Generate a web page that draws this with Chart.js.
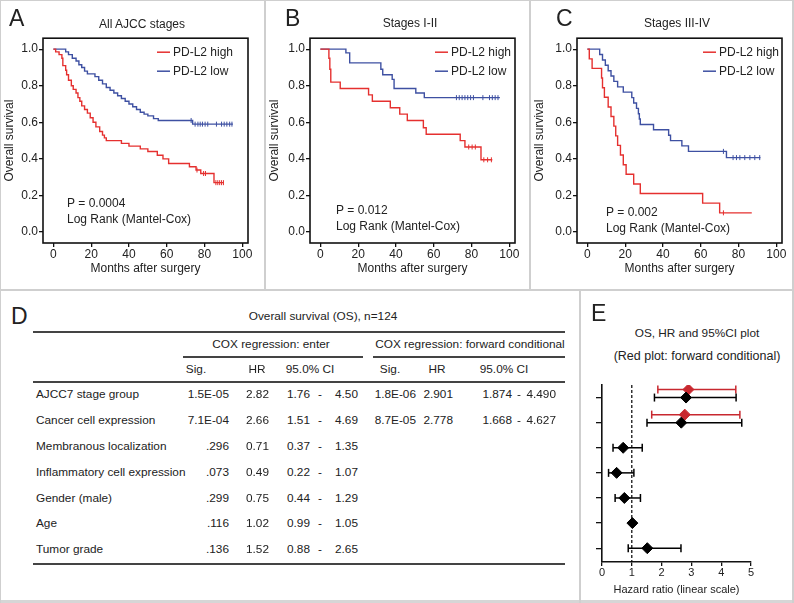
<!DOCTYPE html>
<html>
<head>
<meta charset="utf-8">
<script src="https://cdn.jsdelivr.net/npm/chart.js@4.4.1/dist/chart.umd.min.js"></script>
<style>
  body { margin: 0; background: #fff; font-family: "Liberation Sans", Arial, sans-serif; color: #222; }
  #page { position: relative; width: 794px; height: 603px; overflow: hidden; background: #fff; }
  .t { position: absolute; white-space: nowrap; line-height: 1; }
  .ln { position: absolute; }
  canvas { position: absolute; }
</style>
</head>
<body>
<div id="page">
  <canvas id="kmA" width="265" height="250" style="left:0px;top:30px"></canvas>
  <canvas id="kmB" width="265" height="250" style="left:265px;top:30px"></canvas>
  <canvas id="kmC" width="264" height="250" style="left:530px;top:30px"></canvas>
  <canvas id="forest" width="204" height="228" style="left:590px;top:375px"></canvas>
</div>
<script>
var RED = '#e5302f';
var BLUE = '#3e50a2';
var FOREST_RED = '#c8282f';

var kmXTicks = [0, 20, 40, 60, 80, 100];
var kmYTicks = [0, 0.2, 0.4, 0.6, 0.8, 1.0];

// km steps are [month, survival after the drop]
// A - all AJCC stages
var aHigh = [[0,1],[1.2,0.985],[3,0.97],[4.5,0.95],[5,0.91],[6.5,0.885],[7,0.86],[8,0.83],[9.5,0.8],[10.5,0.78],[12,0.76],[13,0.735],[14,0.715],[15,0.69],[16.5,0.67],[18,0.65],[19.5,0.625],[21,0.6],[22.5,0.575],[24.5,0.55],[26,0.53],[27,0.515],[28,0.5],[36,0.485],[40,0.47],[46,0.455],[50,0.44],[55,0.42],[58,0.4],[61,0.375],[72,0.357],[75.5,0.339],[78,0.32],[85,0.27]];
var aHighEnd = 90;
var aHighCens = [76, 79.5, 80.5, 86, 87, 88, 89, 90];
var aLow = [[0,1],[6.5,0.985],[8,0.97],[10,0.95],[12,0.935],[13.5,0.915],[15,0.9],[16.5,0.88],[18,0.865],[22,0.85],[24,0.83],[26,0.81],[28,0.79],[30,0.775],[32,0.76],[34,0.745],[36,0.73],[38,0.715],[40,0.7],[42,0.685],[44,0.67],[46,0.655],[48,0.645],[50,0.635],[53,0.62],[55.5,0.61],[73.7,0.59]];
var aLowEnd = 95;
var aLowCens = [72.9, 75, 76.5, 77.7, 78.9, 80.3, 81.7, 86.3, 89, 90.4, 91.8, 93.3, 94.5];
var aText = ['P = 0.0004', 'Log Rank (Mantel-Cox)'];

// B - stages I-II
var bHigh = [[0,1],[4.5,0.95],[5,0.89],[5.5,0.82],[10.5,0.785],[25.5,0.75],[27.5,0.715],[37,0.68],[42,0.645],[46,0.61],[54.5,0.57],[56,0.535],[74,0.5],[76.5,0.465],[85,0.395]];
var bHighEnd = 91;
var bHighCens = [78.5, 80.3, 82, 86.5, 88.5, 90.5];
var bLow = [[0,1],[13.5,0.98],[15.5,0.925],[32,0.89],[33,0.86],[38,0.835],[39,0.785],[50.5,0.76],[55,0.735]];
var bLowEnd = 95;
var bLowCens = [72, 73.5, 75, 76.5, 78, 79.5, 81, 86, 89.5, 91, 92.5, 94];
var bText = ['P = 0.012', 'Log Rank (Mantel-Cox)'];

// C - stages III-IV
var cHigh = [[0,1],[1,0.947],[2.5,0.895],[7.5,0.842],[8,0.789],[9,0.737],[11,0.684],[12.5,0.632],[14,0.579],[15,0.526],[16,0.474],[17.5,0.421],[19,0.368],[20.5,0.316],[24.5,0.263],[28,0.211],[61,0.158],[70,0.105]];
var cHighEnd = 87;
var cHighCens = [72];
var cLow = [[0,1],[6.5,0.971],[8,0.941],[9.5,0.912],[11,0.882],[12.5,0.853],[14,0.824],[16,0.794],[19,0.765],[23.5,0.735],[24.5,0.706],[26,0.676],[27,0.647],[27.5,0.618],[28,0.588],[35,0.559],[43,0.529],[44,0.5],[50,0.471],[53.5,0.441],[73.6,0.407]];
var cLowEnd = 91.6;
var cLowCens = [72, 77.1, 78.9, 80.7, 83.3, 86, 88.6, 91.2];
var cText = ['P = 0.002', 'Log Rank (Mantel-Cox)'];

// D - cox table
var coxVars = ['AJCC7 stage group', 'Cancer cell expression', 'Membranous localization', 'Inflammatory cell expression', 'Gender (male)', 'Age', 'Tumor grade'];
var enterSig = ['1.5E-05', '7.1E-04', '.296', '.073', '.299', '.116', '.136'];
var enterHR = [2.82, 2.66, 0.71, 0.49, 0.75, 1.02, 1.52];
var enterLo = [1.76, 1.51, 0.37, 0.22, 0.44, 0.99, 0.88];
var enterHi = [4.50, 4.69, 1.35, 1.07, 1.29, 1.05, 2.65];
var fwdSig = ['1.8E-06', '8.7E-05'];
var fwdHR = [2.901, 2.778];
var fwdLo = [1.874, 1.668];
var fwdHi = [4.490, 4.627];

var forestXTicks = [0, 1, 2, 3, 4, 5];

function stepAt(steps, t) {
  var v = steps[0][1];
  steps.forEach(function (s) { if (s[0] <= t) v = s[1]; });
  return v;
}

var page = document.getElementById('page');
function txt(s, x, y, size, align) {
  var d = document.createElement('div');
  d.className = 't';
  d.textContent = s;
  d.style.left = x + 'px';
  d.style.top = y + 'px';
  d.style.fontSize = size + 'px';
  var tx = align == 'right' ? '-100%' : (align == 'center' ? '-50%' : '0');
  d.style.transform = 'translate(' + tx + ',-50%)';
  page.appendChild(d);
}
function rule(x, y, w, h, col) {
  var d = document.createElement('div');
  d.className = 'ln';
  d.style.left = x + 'px'; d.style.top = y + 'px';
  d.style.width = w + 'px'; d.style.height = h + 'px';
  d.style.background = col;
  page.appendChild(d);
}

// panel frames
rule(0, 0, 794, 1, '#cfcfcf');
rule(0, 600, 794, 3, '#d6d6d6');
rule(0, 0, 1, 603, '#cfcfcf');
rule(792, 0, 2, 603, '#cfcfcf');
rule(264, 0, 2, 290, '#cfcfcf');
rule(529, 0, 2, 290, '#cfcfcf');
rule(0, 289, 794, 2, '#cfcfcf');
rule(579, 290, 2, 313, '#cfcfcf');

// panel letters + titles
txt('A', 9, 18, 23, 'left');
txt('B', 285, 18, 23, 'left');
txt('C', 556, 18, 23, 'left');
txt('D', 11, 316, 23, 'left');
txt('E', 591, 313, 23, 'left');
txt('All AJCC stages', 142, 24, 12, 'center');
txt('Stages I-II', 410, 23, 12, 'center');
txt('Stages III-IV', 677, 23, 12, 'center');

// table D
var fs = 11.8;
var rowY = [395, 421, 447, 473, 499, 524, 550];
txt('Overall survival (OS), n=124', 323, 317, fs, 'center');
rule(33, 331, 532, 2, '#444');
txt('COX regression: enter', 271, 345, fs, 'center');
txt('COX regression: forward conditional', 470, 345, fs, 'center');
rule(183, 356, 180, 1.5, '#444');
rule(373, 356, 192, 1.5, '#444');
txt('Sig.', 196, 370, fs, 'center');
txt('HR', 257, 370, fs, 'center');
txt('95.0% CI', 310, 370, fs, 'center');
txt('Sig.', 390, 370, fs, 'center');
txt('HR', 437, 370, fs, 'center');
txt('95.0% CI', 504, 370, fs, 'center');
rule(33, 381, 532, 1.5, '#444');
coxVars.forEach(function (v, i) {
  var y = rowY[i];
  txt(v, 36, y, fs, 'left');
  txt(enterSig[i], 229, y, fs, 'right');
  txt(enterHR[i].toFixed(2), 269, y, fs, 'right');
  txt(enterLo[i].toFixed(2), 310, y, fs, 'right');
  txt('-', 320, y, fs, 'center');
  txt(enterHi[i].toFixed(2), 358, y, fs, 'right');
  if (i < fwdSig.length) {
    txt(fwdSig[i], 416, y, fs, 'right');
    txt(fwdHR[i].toFixed(3), 453, y, fs, 'right');
    txt(fwdLo[i].toFixed(3), 512, y, fs, 'right');
    txt('-', 519, y, fs, 'center');
    txt(fwdHi[i].toFixed(3), 556, y, fs, 'right');
  }
});
rule(33, 563, 532, 2, '#444');

// E titles
txt('OS, HR and 95%CI plot', 697, 334, 11.8, 'center');
txt('(Red plot: forward conditional)', 697, 356, 12.5, 'center');

var kmDecor = {
  id: 'kmDecor',
  beforeDatasetsDraw: function (chart, args, o) {
    var a = chart.chartArea, ctx = chart.ctx;
    ctx.save();
    ctx.strokeStyle = '#111';
    ctx.lineWidth = 1.6;
    ctx.strokeRect(a.left, a.top, a.right - a.left, a.bottom - a.top);
    ctx.restore();
  },
  afterDatasetsDraw: function (chart, args, o) {
    var a = chart.chartArea, ctx = chart.ctx;
    ctx.save();
    ctx.font = '12px "Liberation Sans", Arial, sans-serif';
    ctx.fillStyle = '#222';
    ctx.textBaseline = 'middle';
    [0, 1].forEach(function (k) {
      var ds = chart.data.datasets[k];
      var y = a.top + 14 + k * 19;
      var x0 = a.right - o.legendX;
      ctx.strokeStyle = ds.borderColor;
      ctx.lineWidth = 1.5;
      ctx.beginPath();
      ctx.moveTo(x0, y); ctx.lineTo(x0 + 13, y);
      ctx.stroke();
      ctx.fillText(ds.label, x0 + 16, y);
    });
    o.lines.forEach(function (s, k) {
      ctx.fillText(s, a.left + o.textX, a.top + o.textY + k * 16);
    });
    ctx.restore();
  }
};

function kmChart(id, high, highEnd, highCens, low, lowEnd, lowCens, lines, yWidth, padRight, legendX, textX, textY) {
  function line(steps, end) {
    var d = steps.map(function (p) { return { x: p[0], y: p[1] }; });
    d.push({ x: end, y: steps[steps.length - 1][1] });
    return d;
  }
  function cens(steps, times) {
    return times.map(function (t) { return { x: t, y: stepAt(steps, t) }; });
  }
  var lineStyle = { showLine: true, stepped: 'before', borderWidth: 1.4, pointRadius: 0, fill: false };
  var censStyle = { showLine: false, pointStyle: 'line', rotation: 90, pointRadius: 2.5, pointBorderWidth: 1 };
  new Chart(document.getElementById(id), {
    type: 'scatter',
    data: {
      datasets: [
        Object.assign({ label: 'PD-L2 high', data: line(high, highEnd), borderColor: RED }, lineStyle),
        Object.assign({ label: 'PD-L2 low', data: line(low, lowEnd), borderColor: BLUE }, lineStyle),
        Object.assign({ data: cens(high, highCens), borderColor: RED, backgroundColor: RED }, censStyle),
        Object.assign({ data: cens(low, lowCens), borderColor: BLUE, backgroundColor: BLUE }, censStyle)
      ]
    },
    options: {
      responsive: false,
      animation: false,
      layout: { padding: { left: 0, right: padRight, top: 8, bottom: 2 } },
      plugins: {
        legend: { display: false },
        tooltip: { enabled: false },
        kmDecor: { lines: lines, legendX: legendX, textX: textX, textY: textY }
      },
      scales: {
        x: {
          type: 'linear', min: -5.5, max: 103,
          afterBuildTicks: function (ax) { ax.ticks = kmXTicks.map(function (v) { return { value: v }; }); },
          afterFit: function (ax) { ax.height = 35; },
          grid: { drawOnChartArea: false, tickLength: 4, color: '#111', lineWidth: 1.3 },
          border: { display: false },
          ticks: { color: '#222', font: { size: 12, family: '"Liberation Sans", Arial' }, padding: 0, maxRotation: 0 },
          title: { display: true, text: 'Months after surgery', color: '#222', font: { size: 12, family: '"Liberation Sans", Arial' }, padding: { top: 0, bottom: 2 } }
        },
        y: {
          type: 'linear', min: -0.06, max: 1.06,
          afterBuildTicks: function (ax) { ax.ticks = kmYTicks.map(function (v) { return { value: v }; }); },
          afterFit: function (ax) { ax.width = yWidth; },
          grid: { drawOnChartArea: false, tickLength: 4, color: '#111', lineWidth: 1.3 },
          border: { display: false },
          ticks: { color: '#222', font: { size: 12, family: '"Liberation Sans", Arial' }, padding: 1, callback: function (v) { return v.toFixed(1); } },
          title: { display: true, text: 'Overall survival', color: '#222', font: { size: 12, family: '"Liberation Sans", Arial' }, padding: { top: 2, bottom: 0 } }
        }
      }
    },
    plugins: [kmDecor]
  });
}

kmChart('kmA', aHigh, aHighEnd, aHighCens, aLow, aLowEnd, aLowCens, aText, 43, 17, 91, 24, 165);
kmChart('kmB', bHigh, bHighEnd, bHighCens, bLow, bLowEnd, bLowCens, bText, 45, 15, 80, 26, 172);
kmChart('kmC', cHigh, cHighEnd, cHighCens, cLow, cLowEnd, cLowCens, cText, 47, 12, 79, 29, 174);

// E - forest plot
var redShift = 0.32;
var forestSets = [];
forestSets.push({
  data: enterHR.map(function (v, i) { return { x: v, y: i + 1 }; }),
  pointStyle: 'rectRot', pointRadius: 5.5, backgroundColor: '#000', borderColor: '#000', order: 0
});
forestSets.push({
  data: fwdHR.map(function (v, i) { return { x: v, y: i + 1 - redShift }; }),
  pointStyle: 'rectRot', pointRadius: 5.5, backgroundColor: FOREST_RED, borderColor: FOREST_RED, order: 0
});
enterHR.forEach(function (v, i) {
  forestSets.push({
    data: [{ x: enterLo[i], y: i + 1 }, { x: enterHi[i], y: i + 1 }],
    showLine: true, borderColor: '#000', borderWidth: 1.5,
    pointStyle: 'line', rotation: 90, pointRadius: 4, pointBorderWidth: 1.5, order: 1
  });
});
fwdHR.forEach(function (v, i) {
  forestSets.push({
    data: [{ x: fwdLo[i], y: i + 1 - redShift }, { x: fwdHi[i], y: i + 1 - redShift }],
    showLine: true, borderColor: FOREST_RED, borderWidth: 1.5,
    pointStyle: 'line', rotation: 90, pointRadius: 4, pointBorderWidth: 1.5, order: 1
  });
});
forestSets.push({
  data: [{ x: 1, y: 0.5 }, { x: 1, y: 7.55 }],
  showLine: true, borderColor: '#000', borderWidth: 1.2, borderDash: [3, 2], pointRadius: 0, order: 2
});

new Chart(document.getElementById('forest'), {
  type: 'scatter',
  data: { datasets: forestSets },
  options: {
    responsive: false,
    animation: false,
    layout: { padding: { left: 0, right: 43, top: 10, bottom: 6 } },
    plugins: { legend: { display: false }, tooltip: { enabled: false } },
    scales: {
      x: {
        type: 'linear', min: 0, max: 5,
        afterBuildTicks: function (ax) { ax.ticks = forestXTicks.map(function (v) { return { value: v }; }); },
        afterFit: function (ax) { ax.height = 35; },
        grid: { drawOnChartArea: false, tickLength: 4, color: '#111', lineWidth: 1.3 },
        border: { display: true, color: '#111', width: 1.6 },
        ticks: { color: '#222', font: { size: 11, family: '"Liberation Sans", Arial' }, padding: 0, maxRotation: 0 },
        title: { display: true, text: 'Hazard ratio (linear scale)', color: '#222', font: { size: 11, family: '"Liberation Sans", Arial' }, padding: { top: 0, bottom: 0 } }
      },
      y: {
        type: 'linear', min: 0.5, max: 7.55, reverse: true,
        afterBuildTicks: function (ax) { ax.ticks = coxVars.map(function (v, i) { return { value: i + 1 }; }); },
        afterFit: function (ax) { ax.width = 12; },
        grid: { drawOnChartArea: false, tickLength: 6, color: '#111', lineWidth: 1.3 },
        border: { display: true, color: '#111', width: 1.6 },
        ticks: { display: false }
      }
    }
  }
});
</script>
</body>
</html>
